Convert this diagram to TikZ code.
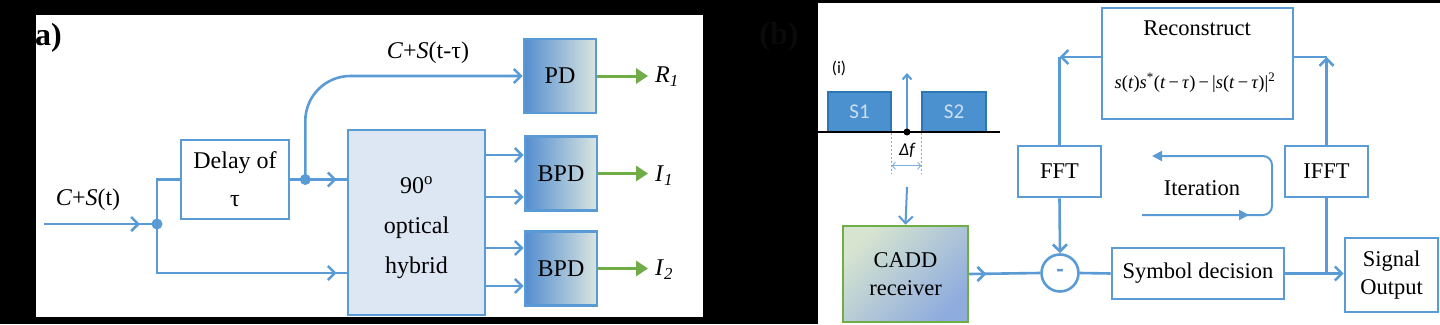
\documentclass[tikz,border=0pt]{standalone}
\usepackage{fontspec}
\setmainfont{Liberation Serif}
\newfontfamily\calibri{Carlito}
\usetikzlibrary{arrows.meta,calc}

\definecolor{lineblue}{RGB}{91,155,213}
\definecolor{outgreen}{RGB}{112,173,71}
\definecolor{hybfill}{RGB}{221,231,243}
\definecolor{sfill}{RGB}{76,145,207}
\definecolor{sdraw}{RGB}{46,117,182}
\definecolor{stext}{RGB}{205,222,240}
\definecolor{detblue}{RGB}{84,142,208}
\definecolor{detpale}{RGB}{218,229,224}
\definecolor{caddpale}{RGB}{214,228,208}
\definecolor{caddblue}{RGB}{143,172,222}
\definecolor{faint}{RGB}{10,10,10}

\begin{document}
\begin{tikzpicture}[x=1pt, y=-1pt,
    wire/.style={draw=lineblue, line width=2.6pt},
    arrow/.style={wire, -{Straight Barb[length=7pt,width=14pt]}},
    outarrow/.style={draw=outgreen, line width=3pt, -{Triangle[length=12pt,width=15pt]}, shorten >=7pt},
    loopline/.style={draw=lineblue, line width=2pt},
    dashline/.style={draw=lineblue!80, line width=0.9pt, dash pattern=on 2pt off 2pt},
    block/.style={rectangle, draw=lineblue, line width=2.6pt, fill=white, align=center, inner sep=0pt},
    detector/.style={block, left color=detblue, right color=detpale, minimum width=72pt, minimum height=74pt},
    lfont/.style={font=\fontsize{24}{38}\selectfont},
    rfont/.style={font=\fontsize{22.5}{28}\selectfont},
    outlabel/.style={lfont, anchor=west, inner sep=0pt},
    signal/.style={rectangle, draw=sdraw, line width=1.5pt, fill=sfill, text=stext, font=\calibri\fontsize{21}{24}\selectfont, minimum width=63pt, minimum height=40pt, inner sep=0pt}
]
\useasboundingbox (0,0) rectangle (1440,324);
\fill[black] (0,0) rectangle (1440,324);
\fill[white] (36,15) rectangle (703,317);
\fill[white] (818,3) rectangle (1440,324);

% Panel labels
\node[font=\bfseries\fontsize{32}{32}\selectfont, anchor=west, inner sep=0pt] (labela) at (35,38) {a)};
\node[font=\bfseries\fontsize{32}{32}\selectfont, text=faint, inner sep=0pt] (labelb) at (779,37) {(b)};

% Input
\coordinate (in) at (44,224);
\coordinate (split) at (157,224);
\node[lfont, anchor=base, inner sep=0pt] (inlabel) at (88,205) {\textit{C}+\textit{S}(t)};

% Delay and hybrid
\node[block, lfont, minimum width=108pt, minimum height=79pt] (delay) at (235,179.5) {Delay of\\τ};
\node[block, fill=hybfill, minimum width=137pt, minimum height=185pt] (hybrid) at (416.5,222.5) {};
\node[font=\fontsize{24}{40}\selectfont, align=center, inner sep=0pt] (hybridtext) at (416.5,228) {90\textsuperscript{o}\\optical\\hybrid};

% Detectors
\node[detector, lfont] (pd) at (560,76) {PD};
\node[detector, lfont] (bpd1) at (561,173.5) {BPD};
\node[detector, lfont] (bpd2) at (561,268.5) {BPD};

% Input arrows
\draw[wire] (in) -- (split);
\draw[arrow] (in) -- ++(96,0);
\draw[wire] (split) |- (delay.west);
\coordinate (lowin) at (hybrid.west |- 0,273);
\draw[wire] (split) |- (lowin);
\draw[arrow] (split |- lowin) -- ([xshift=-10pt]lowin);
\fill[lineblue] (split) circle (5.5pt);

% Delay to hybrid and PD
\coordinate (tap) at ($(delay.east)+(15,0)$);
\coordinate (topin) at (hybrid.west |- delay.east);
\draw[wire] (delay.east) -- (topin);
\draw[arrow] (delay.east) -- ([xshift=-10pt]topin);
\draw[arrow, rounded corners=45pt] (tap) |- (pd.west);
\fill[lineblue] (tap) circle (5.5pt);
\node[lfont, anchor=base, inner sep=0pt] (delaylabel) at (428,58) {\textit{C}+\textit{S}(t-τ)};

% Hybrid to BPDs
\foreach \b/\ya/\yb in {bpd1/155/197, bpd2/248/286}{
  \draw[arrow] (hybrid.east |- 0,\ya) -- (\b.west |- 0,\ya);
  \draw[arrow] (hybrid.east |- 0,\yb) -- (\b.west |- 0,\yb);
}

% Outputs
\node[outlabel] (r1) at (655,77) {\textit{R}\textsubscript{\textit{1}}};
\node[outlabel] (i1) at (655,176) {\textit{I}\textsubscript{\textit{1}}};
\node[outlabel] (i2) at (655,270) {\textit{I}\textsubscript{\textit{2}}};
\draw[outarrow] (pd.east) -- (pd.east -| r1.west);
\draw[outarrow] (bpd1.east) -- (bpd1.east -| i1.west);
\draw[outarrow] (bpd2.east) -- (bpd2.east -| i2.west);

% Spectrum (i)
\node[font=\calibri\fontsize{17}{17}\selectfont, inner sep=0pt] (ilabel) at (839,68) {(i)};
\node[signal] (s1) at (859.5,112) {S1};
\node[signal, minimum width=64pt] (s2) at (954,112) {S2};
\coordinate (axl) at (818,132);
\coordinate (axr) at (1000,132);
\draw[black, line width=2pt] (axl) -- (axr);
\coordinate (carrier) at (907,132);
\coordinate (carriertop) at (907,73);
\draw[loopline, -{Straight Barb[length=5pt,width=9pt]}] (carrier) -- (carriertop);
\fill[black] (carrier) circle (3.5pt);
\draw[dashline] (s1.south east) -- ++(0,41);
\draw[dashline] (s2.south west) -- ++(0,41);
\node[font=\calibri\itshape\fontsize{18}{18}\selectfont, inner sep=0pt] (df) at (907,150) {Δ\textit{f}};
\draw[dashline, solid, {Straight Barb[length=3pt,width=7pt]}-{Straight Barb[length=3pt,width=7pt]}] ($(s1.south east)+(0,33)$) -- ($(s2.south west)+(0,33)$);

% CADD receiver
\node[block, rfont, draw=outgreen, top color=caddpale, bottom color=caddblue, shading angle=45, minimum width=125pt, minimum height=96pt] (cadd) at (905.5,274) {CADD\\receiver};
\coordinate (spec) at (907,187);
\draw[arrow, line width=2pt] (spec) -- (cadd.north);

% Processing loop
\node[circle, draw=lineblue, line width=2.6pt, fill=white, minimum size=37pt, inner sep=0pt, text=lineblue, font=\calibri\bfseries\fontsize{24}{24}\selectfont] (minus) at (1060,273) {-};
\node[block, rfont, minimum width=83pt, minimum height=51pt] (fft) at (1059.5,171.5) {FFT};
\node[block, rfont, minimum width=83pt, minimum height=51pt] (ifft) at (1326.5,171.5) {IFFT};
\node[block, minimum width=191pt, minimum height=111pt] (recon) at (1197.5,63.5) {};
\node[rfont, inner sep=0pt, anchor=base] (recontitle) at (1197,35) {Reconstruct};
\node[font=\fontsize{18.5}{18.5}\selectfont, inner sep=0pt, anchor=base] (reconeq) at (1195,88) {\textit{s}(\textit{t})\textit{s}\textsuperscript{*}(\textit{t}\,−\,\textit{τ})\,−\,|\textit{s}(\textit{t}\,−\,\textit{τ})|\textsuperscript{2}};
\node[block, rfont, minimum width=172pt, minimum height=51pt] (symbol) at (1198,273.5) {Symbol decision};
\node[block, rfont, minimum width=93pt, minimum height=74pt] (output) at (1391.5,275) {Signal\\Output};

\draw[wire] (cadd.east) -- (minus.west);
\draw[arrow] (cadd.east) -- ++(17,0);
\draw[arrow] (fft.south) -- (minus.north);
\coordinate (rin) at ([yshift=6.5pt]recon.west);
\draw[arrow] (rin) -- (rin -| fft.north);
\draw[wire] (rin -| fft.north) -- (fft.north);
\coordinate (rout) at ([yshift=6.5pt]recon.east);
\draw[arrow] (ifft.north) -- (ifft.north |- rout);
\draw[wire] (ifft.north |- rout) -- (rout);
\draw[wire] (minus.east) -- (symbol.west);
\draw[arrow] (symbol.east) -- (output.west |- symbol.east);
\draw[wire] (ifft.south) -- (ifft.south |- symbol.east);

% Iteration
\node[rfont, inner sep=0pt] (iter) at (1202,188) {Iteration};
\coordinate (itstart) at (1142,215);
\coordinate (itturna) at (1272,215);
\coordinate (itturnb) at (1272,156);
\coordinate (itend) at (1152,156);
\draw[loopline, rounded corners=9pt, -{Triangle[length=10pt,width=10pt]}] (itstart) -- (itturna) -- (itturnb) -- (itend);
\draw[loopline, -{Triangle[length=10pt,width=10pt]}] (itstart) -- (1249,215);

\end{tikzpicture}
\end{document}
